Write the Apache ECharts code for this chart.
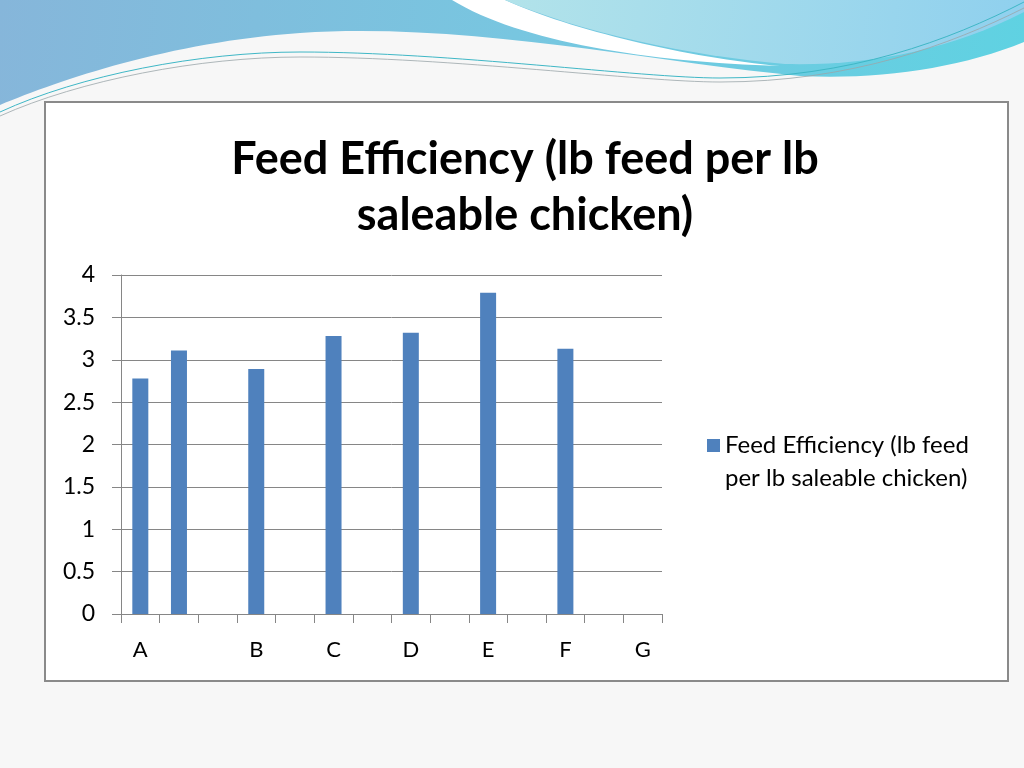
<!DOCTYPE html>
<html>
<head>
<meta charset="utf-8">
<script src="https://cdn.jsdelivr.net/npm/echarts@6/dist/echarts.min.js"></script>
<style>
html,body{margin:0;padding:0;background:#f7f7f7;}
#c{width:1024px;height:768px;}
</style>
</head>
<body>
<div id="c"></div>
<script>
var categories = ['A', '', '', 'B', '', 'C', '', 'D', '', 'E', '', 'F', '', 'G'];
var feedEfficiency = [2.78, 3.11, null, 2.89, null, 3.28, null, 3.32, null, 3.79, null, 3.13, null, null];
var yTicks = { min: 0, max: 4, interval: 0.5 };
var seriesName = 'Feed Efficiency (lb feed per lb saleable chicken)';
var titleText = 'Feed Efficiency (lb feed per lb\nsaleable chicken)';

var decoPaths = {
  waveBase: 'M0,0 H1024 V42 C960,68 880,80 800,76 C650,62 470,22 300,33 C170,42 60,80 0,105 Z',
  waveStripe: 'M452,0 C520,42 650,62 780,66 C690,58 570,30 505,0 Z',
  waveLight: 'M505,0 H1024 V12 C950,50 870,66 785,64 C690,56 580,32 505,0 Z',
  lineA: 'M0,112 C80,75 200,52 300,52 C450,52 640,78 720,78 C850,78 950,40 1024,2',
  lineB: 'M0,116 C80,80 200,57 300,57 C450,57 640,82 720,82 C850,82 950,45 1024,8'
};
var graphics = [];
var decoStyles = {
  waveBase: { fill: { type: 'linear', x: 0, y: 0, x2: 1, y2: 1, colorStops: [{offset: 0, color: '#86b6da'}, {offset: 0.5, color: '#78c6e0'}, {offset: 1, color: '#5fd2e2'}] } },
  waveStripe: { fill: '#ffffff' },
  waveLight: { fill: { type: 'linear', x: 0, y: 0, x2: 1, y2: 1, colorStops: [{offset: 0, color: '#b2e3ea'}, {offset: 1, color: '#8fd0ee'}] } },
  lineA: { fill: 'none', stroke: '#3fb7c6', lineWidth: 1 },
  lineB: { fill: 'none', stroke: '#9aa6aa', lineWidth: 0.8 }
};
var zi = -10;
Object.keys(decoPaths).forEach(function (k) {
  try {
    echarts.graphic.registerShape('deco_' + k, echarts.graphic.extendPath(decoPaths[k], {}));
    graphics.push({ type: 'deco_' + k, z: zi++, silent: true, style: decoStyles[k] });
  } catch (e) { console.log(e); }
});
graphics.push({ type: 'rect', z: -2, shape: { x: 45, y: 102, width: 963, height: 579 },
  style: { fill: '#ffffff', stroke: '#8a8a8a', lineWidth: 2 } });

var chart = echarts.init(document.getElementById('c'));
var font = 'Lato, "Open Sans", sans-serif';
chart.setOption({
  animation: false,
  backgroundColor: '#f7f7f7',
  graphic: graphics,
  title: {
    text: titleText,
    left: 525,
    top: 131,
    padding: 0,
    textAlign: 'center',
    textStyle: { fontFamily: font, fontSize: 45, fontWeight: 'bold', color: '#000', lineHeight: 56 }
  },
  legend: {
    left: 702,
    top: 424,
    orient: 'vertical',
    icon: 'path://M0,0H0.01V0.05H0Z M0,10H13V23H0Z M0,65.95H0.01V66H0Z',
    itemWidth: 13,
    itemHeight: 66,
    itemGap: 4,
    formatter: function () { return 'Feed Efficiency (lb feed\nper lb saleable chicken)'; },
    textStyle: { fontFamily: font, fontSize: 24, color: '#000', lineHeight: 33 },
    data: [seriesName]
  },
  grid: { left: 121, right: 362, top: 275, bottom: 154, containLabel: false },
  xAxis: {
    type: 'category',
    data: categories,
    axisLine: { lineStyle: { color: '#868686', width: 1 } },
    axisTick: { show: true, length: 9, lineStyle: { color: '#868686' } },
    axisLabel: { interval: 0, fontFamily: font, fontSize: 22, color: '#000', margin: 25 }
  },
  yAxis: {
    type: 'value',
    min: yTicks.min,
    max: yTicks.max,
    interval: yTicks.interval,
    axisLine: { show: true, lineStyle: { color: '#868686', width: 1 } },
    axisTick: { show: true, length: 9, lineStyle: { color: '#868686' } },
    axisLabel: { fontFamily: font, fontSize: 23, color: '#000', margin: 26 },
    splitLine: { lineStyle: { color: '#868686', width: 1 } }
  },
  series: [{
    name: seriesName,
    type: 'bar',
    data: feedEfficiency,
    barWidth: 16,
    itemStyle: { color: '#4f81bd' }
  }]
});
</script>
</body>
</html>
